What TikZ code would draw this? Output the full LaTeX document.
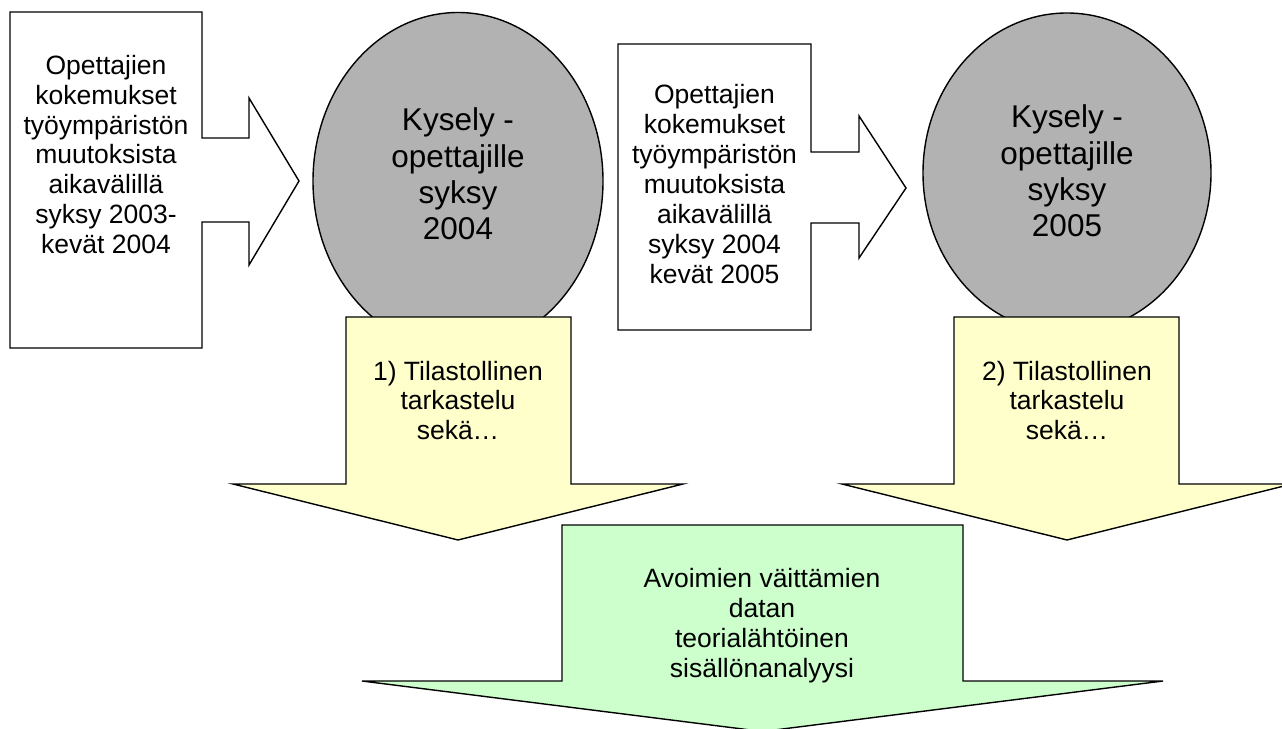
\documentclass[tikz,border=0pt]{standalone}
\usepackage{fontspec}
\setmainfont{Liberation Sans}
\usetikzlibrary{shapes.geometric}

\definecolor{surveygray}{HTML}{B2B2B2}
\definecolor{stepyellow}{HTML}{FFFFCC}
\definecolor{stepgreen}{HTML}{CCFFCC}

\tikzset{
  outline/.style={draw=black, line width=1.4pt, line join=miter},
  survey/.style={ellipse, outline, fill=surveygray, inner sep=0pt},
  bodytext/.style={align=center, inner sep=0pt,
    font=\fontsize{26.5}{29.9}\selectfont},
  surveytext/.style={align=center, inner sep=0pt,
    font=\fontsize{31.5}{36.3}\selectfont},
}

\begin{document}
\begin{tikzpicture}[x=1pt, y=-1pt]
  \useasboundingbox (0,0) rectangle (1282,728);
  \clip (0,0) rectangle (1282,728);

  % survey rounds
  \node[survey, minimum width=290pt, minimum height=337pt] (s1) at (458,181) {};
  \node[survey, minimum width=288pt, minimum height=320pt] (s2) at (1067,173) {};

  % callout boxes with right-pointing arrows
  \draw[outline, fill=white] (10,12) -- (202,12) -- (202,138) -- (249,138) -- (249,98)
    -- (299,181) -- (249,265) -- (249,222) -- (202,222) -- (202,348) -- (10,348) -- cycle;
  \draw[outline, fill=white] (618,44) -- (811,44) -- (811,152) -- (859,152) -- (859,116)
    -- (906,188) -- (859,258) -- (859,223) -- (811,223) -- (811,330) -- (618,330) -- cycle;

  % downward arrows under the survey rounds
  \draw[outline, fill=stepyellow] (346,317) -- (571,317) -- (571,484) -- (683,484)
    -- (458,540) -- (233,484) -- (346,484) -- cycle;
  \draw[outline, fill=stepyellow] (954,317) -- (1179,317) -- (1179,484) -- (1292,484)
    -- (1067,540) -- (842,484) -- (954,484) -- cycle;

  % final analysis arrow
  \draw[outline, fill=stepgreen] (562,525) -- (963,525) -- (963,681) -- (1163,681)
    -- (762.5,731.5) -- (362,681) -- (562,681) -- cycle;

  % texts
  \node[bodytext] (t1) at (106,154.5) {Opettajien\\kokemukset\\työympäristön\\muutoksista\\aikavälillä\\syksy 2003-\\kevät 2004};
  \node[bodytext] (t2) at (714.5,184) {Opettajien\\kokemukset\\työympäristön\\muutoksista\\aikavälillä\\syksy 2004\\kevät 2005};
  \node[surveytext] (k1) at (458,174) {Kysely -\\opettajille\\syksy\\2004};
  \node[surveytext] (k2) at (1067,171) {Kysely -\\opettajille\\syksy\\2005};
  \node[bodytext] (y1) at (458,400.5) {1) Tilastollinen\\tarkastelu\\sekä…};
  \node[bodytext] (y2) at (1067,400.5) {2) Tilastollinen\\tarkastelu\\sekä…};
  \node[bodytext] (g1) at (762,625.7) {Avoimien väittämien\\datan\\teorialähtöinen\\sisällönanalyysi};
\end{tikzpicture}
\end{document}
